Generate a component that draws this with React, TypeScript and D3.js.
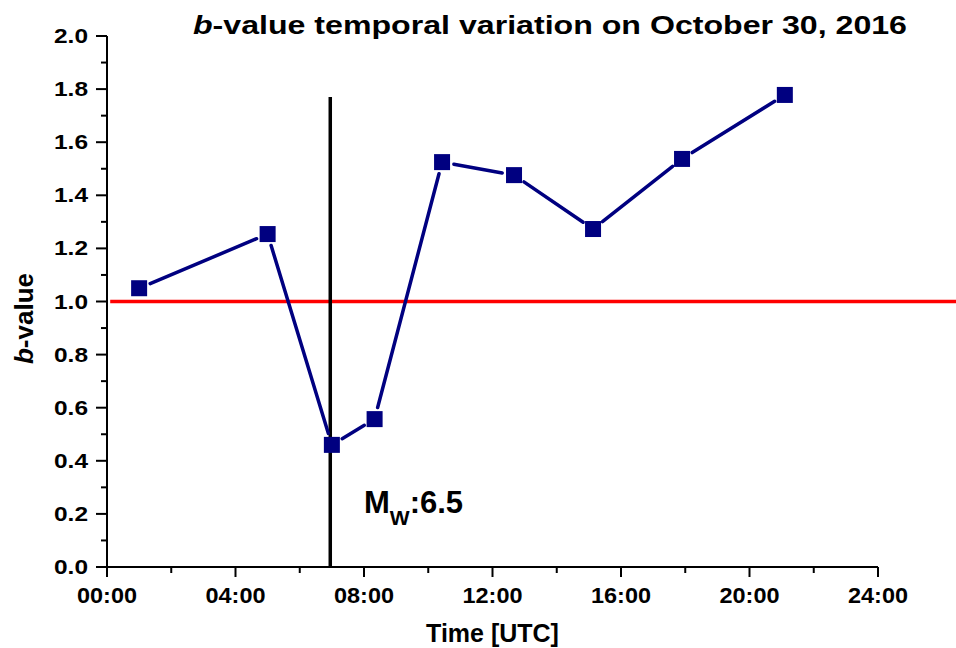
import * as d3 from "d3"

// time in hours (UTC), b-value
const hours = [1.0, 5.0, 7.0, 8.33, 10.43, 12.67, 15.13, 17.9, 21.1]
const bValues = [1.05, 1.254, 0.46, 0.557, 1.525, 1.476, 1.273, 1.537, 1.778]
const xTicks = [0, 4, 8, 12, 16, 20, 24]
const xTickLabels = ["00:00", "04:00", "08:00", "12:00", "16:00", "20:00", "24:00"]
const yTicks = [0, 0.2, 0.4, 0.6, 0.8, 1.0, 1.2, 1.4, 1.6, 1.8, 2.0]
const eqHour = 6.95
const eqTop = 1.77
const refValue = 1.0
const refExtent = [0.1, 26.5]

const W = 956
const H = 648
const font = "'Liberation Sans', Arial, sans-serif"

export default function App() {
  const x = d3.scaleLinear().domain([0, 24]).range([107, 878])
  const y = d3.scaleLinear().domain([0, 2]).range([567, 36])
  const navy = "#000080"
  const gap = 12

  const pts = hours.map((h, i) => [x(h), y(bValues[i])] as [number, number])
  const segs = d3.pairs(pts).map(([a, b]) => {
    const dx = b[0] - a[0]
    const dy = b[1] - a[1]
    const len = Math.hypot(dx, dy)
    const ux = dx / len
    const uy = dy / len
    return [a[0] + ux * gap, a[1] + uy * gap, b[0] - ux * gap, b[1] - uy * gap]
  })

  const minorX = d3.range(2, 24, 4)
  const minorY = d3.range(0.1, 2, 0.2)

  return (
    <svg
      width={W}
      height={H}
      style={{ position: "absolute", left: 0, top: 0, background: "#fff" }}
      fontFamily={font}
    >
      {/* title */}
      <text x={193} y={34} fontSize={26} fontWeight="bold" textLength={714} lengthAdjust="spacingAndGlyphs">
        <tspan fontStyle="italic">b</tspan>-value temporal variation on October 30, 2016
      </text>

      {/* reference line b = 1 */}
      <line x1={x(refExtent[0])} x2={x(refExtent[1])} y1={y(refValue)} y2={y(refValue)} stroke="#ff0000" strokeWidth={3.5} />

      {/* mainshock marker */}
      <line x1={x(eqHour)} x2={x(eqHour)} y1={y(eqTop)} y2={y(0)} stroke="#000" strokeWidth={3.5} />

      {/* axes */}
      <g stroke="#000" strokeWidth={2}>
        <line x1={x(0)} x2={x(24)} y1={y(0)} y2={y(0)} />
        <line x1={x(0)} x2={x(0)} y1={y(0)} y2={y(2)} />
        {xTicks.map((t) => (
          <line key={"xt" + t} x1={x(t)} x2={x(t)} y1={y(0)} y2={y(0) + 10} />
        ))}
        {minorX.map((t) => (
          <line key={"xm" + t} x1={x(t)} x2={x(t)} y1={y(0)} y2={y(0) + 6} />
        ))}
        {yTicks.map((t) => (
          <line key={"yt" + t} x1={x(0) - 11} x2={x(0)} y1={y(t)} y2={y(t)} />
        ))}
        {minorY.map((t) => (
          <line key={"ym" + t} x1={x(0) - 6} x2={x(0)} y1={y(t)} y2={y(t)} />
        ))}
      </g>

      {xTicks.map((t, i) => (
        <text
          key={"xl" + t}
          x={x(t)}
          y={y(0) + 36}
          fontSize={22}
          fontWeight="bold"
          textAnchor="middle"
          textLength={60}
          lengthAdjust="spacingAndGlyphs"
        >
          {xTickLabels[i]}
        </text>
      ))}
      {yTicks.map((t) => (
        <text
          key={"yl" + t}
          x={x(0) - 19}
          y={y(t) + 7}
          fontSize={20}
          fontWeight="bold"
          textAnchor="end"
          textLength={34}
          lengthAdjust="spacingAndGlyphs"
        >
          {d3.format(".1f")(t)}
        </text>
      ))}

      {/* axis titles */}
      <text x={(x(0) + x(24)) / 2} y={642} fontSize={25} fontWeight="bold" textAnchor="middle">
        Time [UTC]
      </text>
      <text
        transform={`translate(33,${y(1) + 17}) rotate(-90)`}
        fontSize={26}
        fontWeight="bold"
        textAnchor="middle"
      >
        <tspan fontStyle="italic">b</tspan>-value
      </text>

      {/* Mw label */}
      <text x={364} y={513} fontSize={31} fontWeight="bold">
        M
        <tspan fontSize={21} dy={12}>W</tspan>
        <tspan dy={-12}>:6.5</tspan>
      </text>

      {/* data */}
      <g stroke={navy} strokeWidth={3.5} strokeLinecap="round">
        {segs.map((s, i) => (
          <line key={"s" + i} x1={s[0]} y1={s[1]} x2={s[2]} y2={s[3]} />
        ))}
      </g>
      <g fill={navy}>
        {pts.map((p, i) => (
          <rect key={"p" + i} x={p[0] - 8} y={p[1] - 8} width={16} height={16} />
        ))}
      </g>
    </svg>
  )
}
